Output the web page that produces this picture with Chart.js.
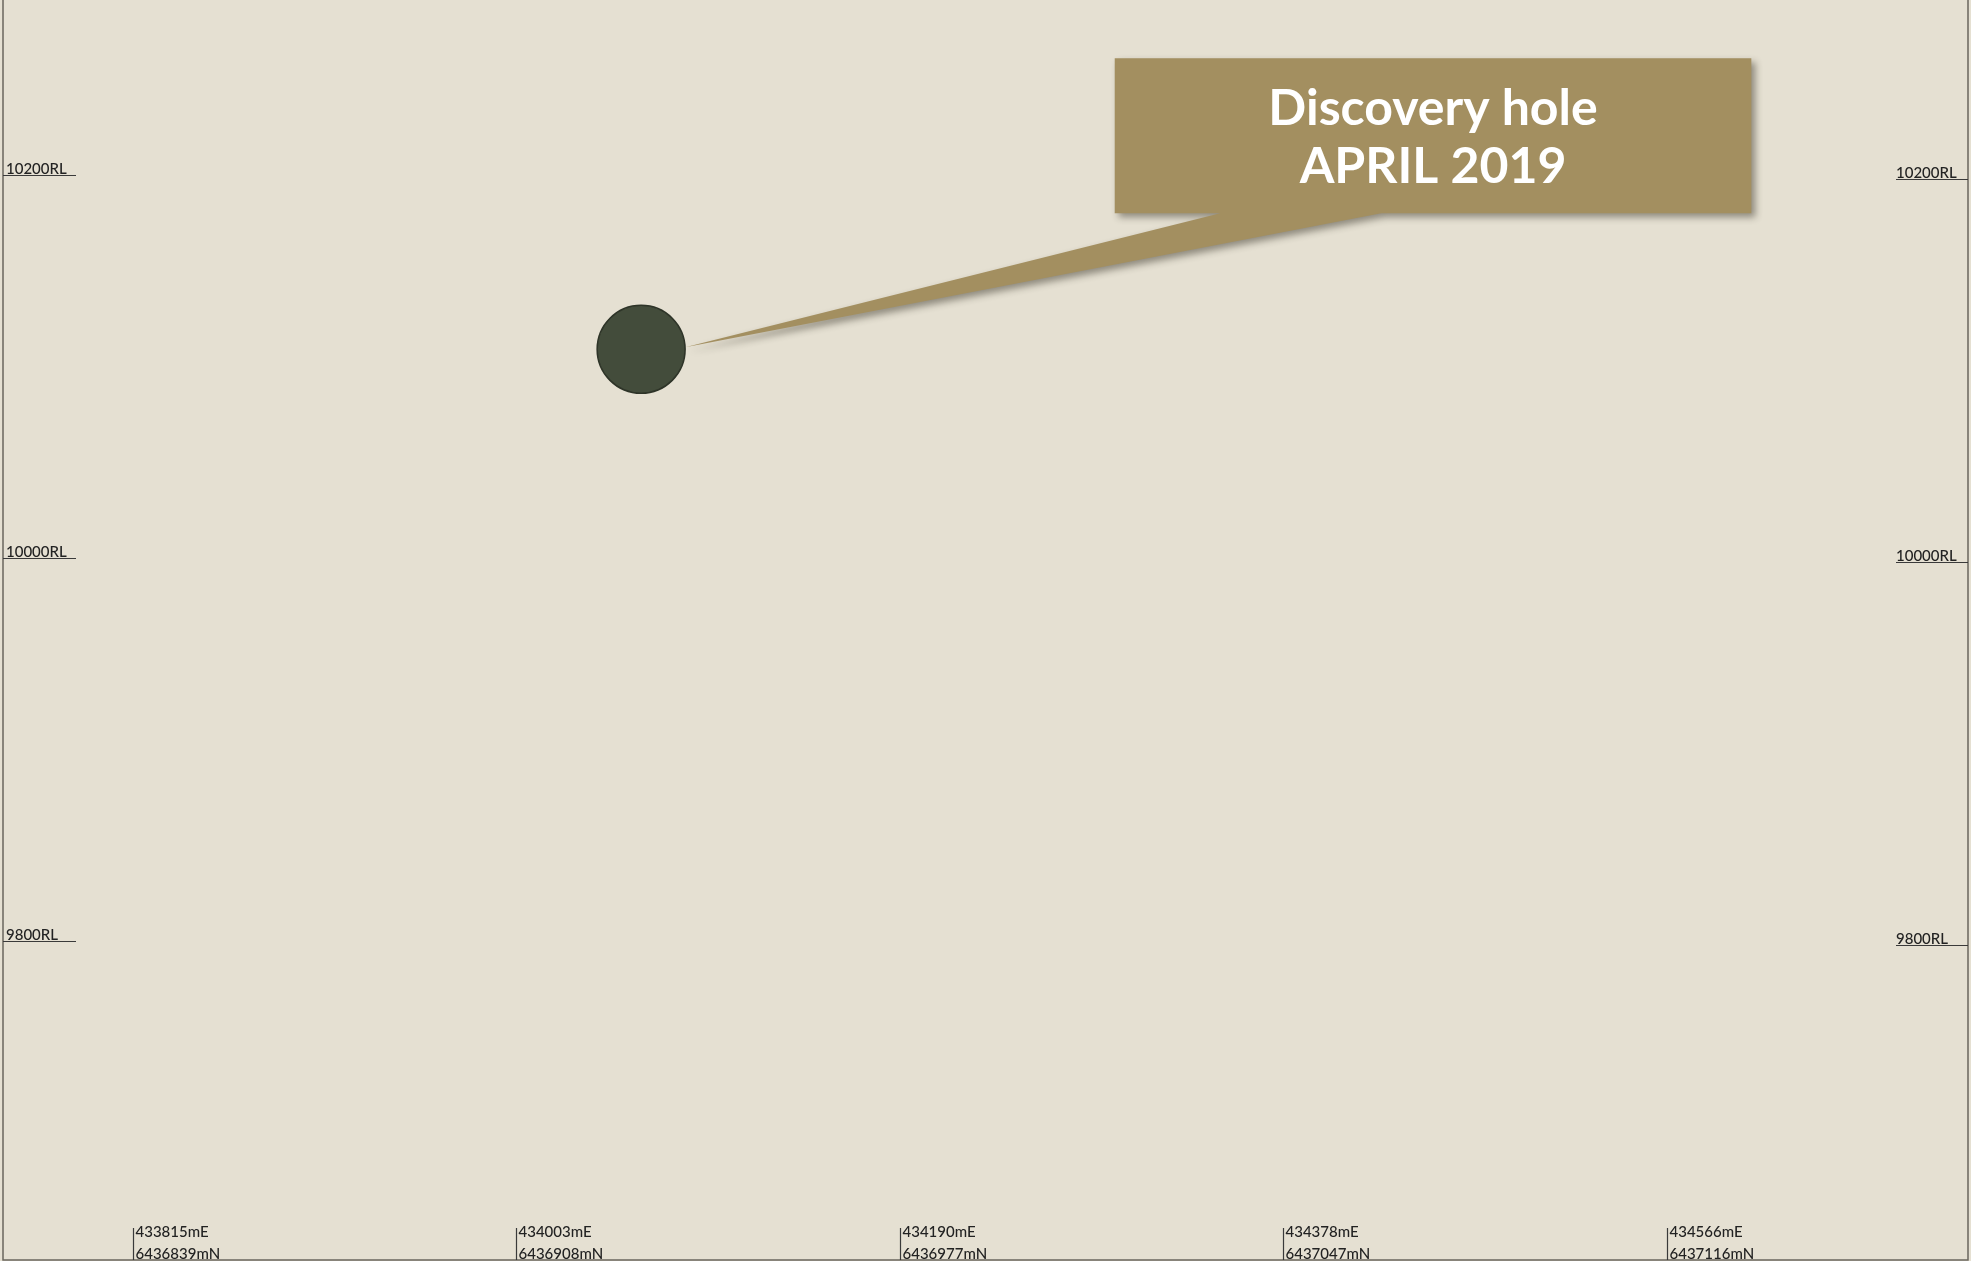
<!DOCTYPE html>
<html>
<head>
<meta charset="utf-8">
<script src="https://cdn.jsdelivr.net/npm/chart.js@4.4.1/dist/chart.umd.min.js"></script>
<style>
  html, body { margin: 0; padding: 0; background: #E5E0D2; overflow: hidden; }
  #wrap { width: 1971px; height: 1261px; }
</style>
</head>
<body>
<div id="wrap"><canvas id="c" width="1971" height="1261"></canvas></div>
<script>
// ---- data ----
const sectionChainage = [0, 200, 400, 600, 800];          // m along section
const eastingLabels   = ['433815mE', '434003mE', '434190mE', '434378mE', '434566mE'];
const northingLabels  = ['6436839mN', '6436908mN', '6436977mN', '6437047mN', '6437116mN'];
const rlTicks         = [9800, 10000, 10200];
const holeChainage    = [265];
const holeRL          = [10109];
const calloutLines    = ['Discovery hole', 'APRIL 2019'];

// callout placement in section units
const calloutBox = { x0: 512, x1: 844, y0: 10261, y1: 10180 };
const calloutBase = { x0: 567, x1: 651 };

const BG = '#E5E0D2';
const GOLD = '#A38F60';

const sectionPlugin = {
  id: 'sectionPlugin',
  beforeDraw(chart) {
    const ctx = chart.ctx;
    ctx.save();
    ctx.fillStyle = BG;
    ctx.fillRect(0, 0, chart.width, chart.height);
    ctx.restore();
  },
  afterDraw(chart) {
    const ctx = chart.ctx;
    const a = chart.chartArea;
    const xs = chart.scales.x, ys = chart.scales.y, ys2 = chart.scales.y2;
    ctx.save();
    // frame
    ctx.strokeStyle = '#6a665e';
    ctx.lineWidth = 1.5;
    ctx.beginPath();
    ctx.moveTo(a.left, a.top); ctx.lineTo(a.left, a.bottom);
    ctx.lineTo(a.right, a.bottom); ctx.lineTo(a.right, a.top);
    ctx.stroke();

    // RL labels
    ctx.fillStyle = '#222222';
    ctx.strokeStyle = '#3a3a3a';
    ctx.lineWidth = 1.2;
    ctx.font = '500 15px Lato';
    ctx.textBaseline = 'alphabetic';
    rlTicks.forEach(v => {
      const t = v + 'RL';
      let y = Math.round(ys.getPixelForValue(v)) + 0.5;
      ctx.textAlign = 'left';
      ctx.fillText(t, a.left + 3, y - 2);
      ctx.beginPath(); ctx.moveTo(a.left, y); ctx.lineTo(a.left + 73, y); ctx.stroke();
      y = Math.round(ys2.getPixelForValue(v)) + 0.5;
      ctx.fillText(t, a.right - 72, y - 2);
      ctx.beginPath(); ctx.moveTo(a.right - 72, y); ctx.lineTo(a.right, y); ctx.stroke();
    });

    // bottom labels
    sectionChainage.forEach((c, i) => {
      const x = Math.round(xs.getPixelForValue(c)) + 0.5;
      ctx.beginPath(); ctx.moveTo(x, a.bottom - 32); ctx.lineTo(x, a.bottom); ctx.stroke();
      ctx.textAlign = 'left';
      ctx.fillText(eastingLabels[i], x + 2, a.bottom - 23);
      ctx.fillText(northingLabels[i], x + 2, a.bottom - 1);
    });

    // callout
    const bx0 = xs.getPixelForValue(calloutBox.x0), bx1 = xs.getPixelForValue(calloutBox.x1);
    const by0 = ys.getPixelForValue(calloutBox.y0), by1 = ys.getPixelForValue(calloutBox.y1);
    const px0 = xs.getPixelForValue(calloutBase.x0), px1 = xs.getPixelForValue(calloutBase.x1);
    const meta = chart.getDatasetMeta(0).data[0];
    const r = chart.data.datasets[0].pointRadius;
    const tipX = meta.x + r, tipY = meta.y - 2;

    ctx.shadowColor = 'rgba(40,35,25,0.45)';
    ctx.shadowBlur = 7;
    ctx.shadowOffsetX = 4;
    ctx.shadowOffsetY = 4;
    ctx.fillStyle = GOLD;
    ctx.beginPath();
    ctx.moveTo(bx0, by0); ctx.lineTo(bx1, by0); ctx.lineTo(bx1, by1);
    ctx.lineTo(px1, by1); ctx.lineTo(tipX, tipY); ctx.lineTo(px0, by1);
    ctx.lineTo(bx0, by1); ctx.closePath();
    ctx.fill();
    ctx.shadowColor = 'transparent';
    ctx.shadowBlur = 0; ctx.shadowOffsetX = 0; ctx.shadowOffsetY = 0;

    ctx.fillStyle = '#ffffff';
    ctx.font = 'bold 50px Lato';
    ctx.textAlign = 'center';
    const cx = (bx0 + bx1) / 2;
    ctx.fillText(calloutLines[0], cx, by0 + 67);
    ctx.fillText(calloutLines[1], cx, by0 + 125);
    ctx.restore();
  }
};

new Chart(document.getElementById('c'), {
  type: 'scatter',
  data: {
    datasets: [{
      data: holeChainage.map((c, i) => ({ x: c, y: holeRL[i] })),
      pointRadius: 44,
      pointHoverRadius: 44,
      backgroundColor: '#434C3B',
      borderColor: '#2E3428',
      borderWidth: 1.5
    }]
  },
  options: {
    responsive: false,
    devicePixelRatio: 1,
    animation: false,
    events: [],
    layout: { autoPadding: false, padding: { left: 3, right: 3, top: 0, bottom: 1 } },
    plugins: { legend: { display: false }, tooltip: { enabled: false } },
    scales: {
      x: { type: 'linear', display: false, min: -67.8, max: 957.0 },
      y: { type: 'linear', display: false, min: 9633.4, max: 10291.4 },
      y2: { type: 'linear', display: false, position: 'right', min: 9635.5, max: 10293.5 }
    }
  },
  plugins: [sectionPlugin]
});
</script>
</body>
</html>
